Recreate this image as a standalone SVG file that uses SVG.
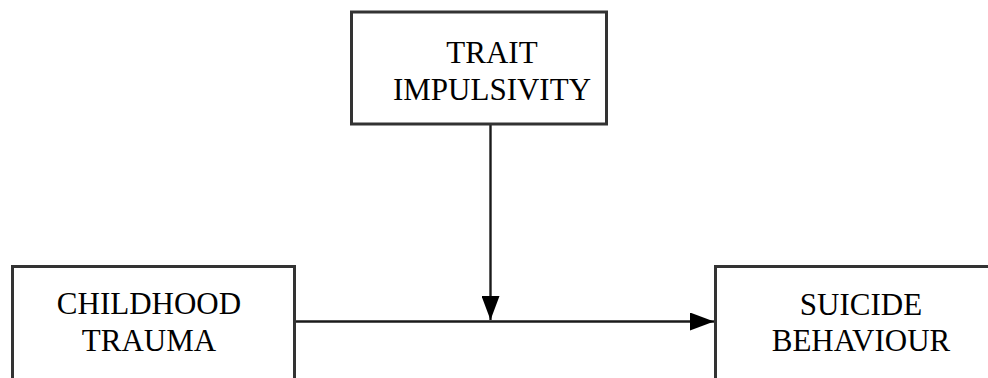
<svg xmlns="http://www.w3.org/2000/svg" width="988" height="378" viewBox="0 0 988 378">
  <defs>
    <marker id="arrow" viewBox="0 0 24 18" refX="24" refY="9" markerWidth="24" markerHeight="18" markerUnits="userSpaceOnUse" orient="auto">
      <path d="M0,0 L24,9 L0,18 Z" fill="#000"/>
    </marker>
    <style>
      .box { fill: #fff; stroke: #333; stroke-width: 3; }
      .label { font-family: "Liberation Serif", "Times New Roman", serif; font-size: 31px; fill: #000; text-anchor: middle; }
      .edge { stroke: #1a1a1a; stroke-width: 2.4; fill: none; }
    </style>
  </defs>
  <rect width="988" height="378" fill="#fff"/>

  <g id="connectors">
    <line class="edge" x1="294.5" y1="321.5" x2="714" y2="321.5" marker-end="url(#arrow)"/>
    <line class="edge" x1="490.5" y1="124" x2="490.5" y2="320" marker-end="url(#arrow)"/>
  </g>

  <g id="trait-impulsivity">
    <rect class="box" x="351.5" y="12" width="255" height="112"/>
    <text class="label" x="492" y="63">TRAIT</text>
    <text class="label" x="492" y="100">IMPULSIVITY</text>
  </g>

  <g id="childhood-trauma">
    <rect class="box" x="12.5" y="266.5" width="282" height="130"/>
    <text class="label" x="149" y="314">CHILDHOOD</text>
    <text class="label" x="149" y="350.5">TRAUMA</text>
  </g>

  <g id="suicide-behaviour">
    <rect class="box" x="715.5" y="266.5" width="300" height="130"/>
    <text class="label" x="861" y="315">SUICIDE</text>
    <text class="label" x="861" y="350.5">BEHAVIOUR</text>
  </g>
</svg>
